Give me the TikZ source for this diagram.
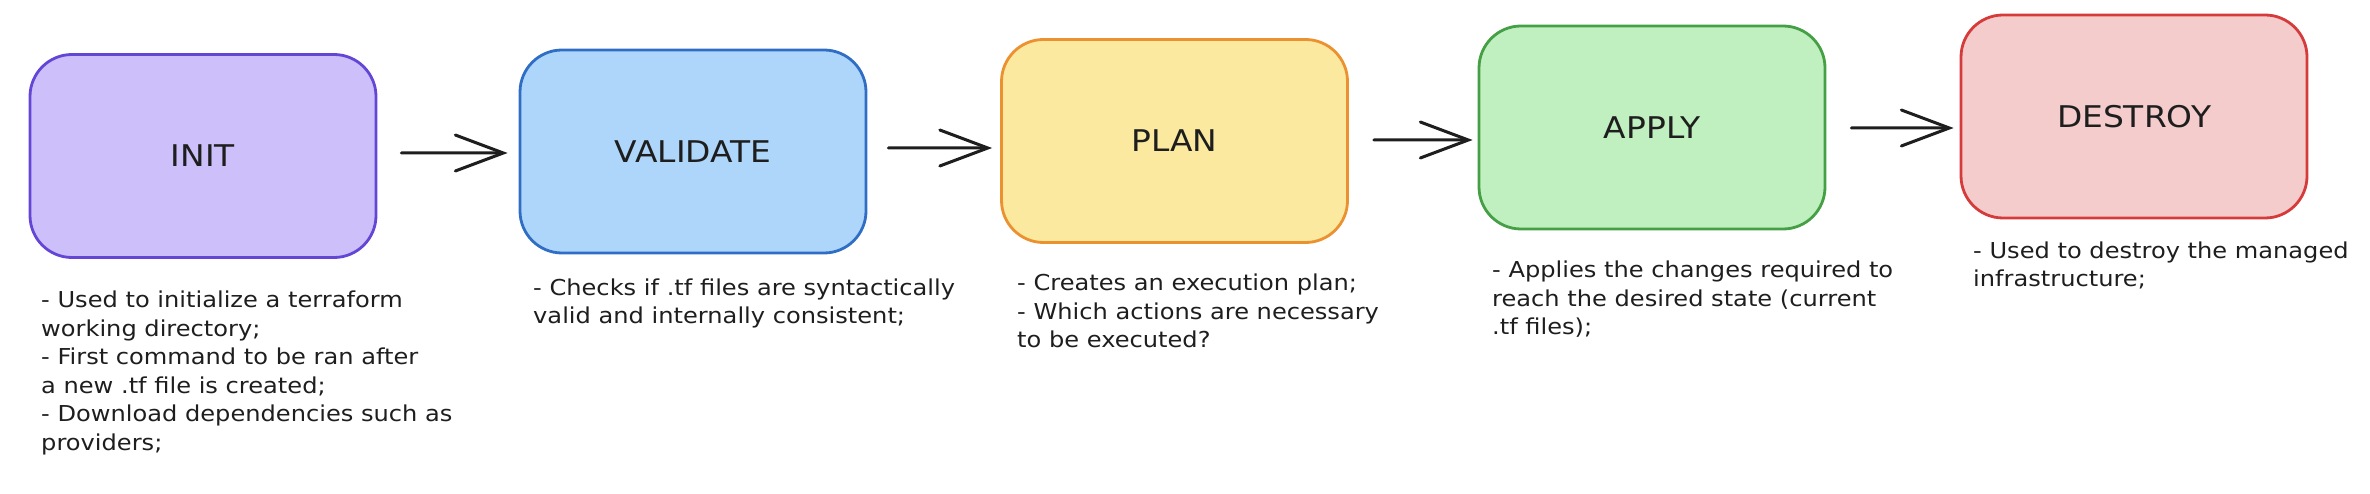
\documentclass[tikz,border=0pt]{standalone}
\usepackage{fontspec}
\setmainfont[FakeStretch=1.1]{DejaVu Sans}
\usetikzlibrary{arrows.meta}
\definecolor{ink}{HTML}{1E1E1E}
\definecolor{initfill}{HTML}{CDC0FA}
\definecolor{initdraw}{HTML}{6446D7}
\definecolor{valfill}{HTML}{AED5FA}
\definecolor{valdraw}{HTML}{2F6EC4}
\definecolor{planfill}{HTML}{FBE9A0}
\definecolor{plandraw}{HTML}{EB9130}
\definecolor{applyfill}{HTML}{C0EFC0}
\definecolor{applydraw}{HTML}{45A045}
\definecolor{destfill}{HTML}{F5CCCC}
\definecolor{destdraw}{HTML}{D63B3B}
\begin{document}
\begin{tikzpicture}[x=1bp,y=-1bp,
  stage/.style={rectangle, rounded corners=42bp, line width=2.8bp,
    minimum width=346bp, minimum height=203bp, inner sep=0pt,
    font=\fontsize{30}{36}\selectfont, text=ink},
  desc/.style={anchor=base west, align=left, inner sep=0pt,
    font=\fontsize{22}{28.6}\selectfont, text=ink},
  arr/.style={line width=3bp, draw=ink, line cap=round,
    -{Straight Barb[length=48bp,width=36bp,line cap=round]}}]
\path[use as bounding box] (0,0) rectangle (2370,494);

\node[stage, fill=initfill, draw=initdraw] (init) at (203,156) {INIT};
\node[stage, fill=valfill, draw=valdraw] (validate) at (693,151.5) {VALIDATE};
\node[stage, fill=planfill, draw=plandraw] (plan) at (1174.5,141) {PLAN};
\node[stage, fill=applyfill, draw=applydraw] (apply) at (1652,127.5) {APPLY};
\node[stage, fill=destfill, draw=destdraw] (destroy) at (2134,116.5) {DESTROY};

% base anchor = baseline of the last line
\node[desc] (initd) at (41,450) {- Used to initialize a terraform\\working directory;\\- First command to be ran after\\a new .tf file is created;\\- Download dependencies such as\\providers;};
\node[desc] (vald) at (533,323.5) {- Checks if .tf files are syntactically\\valid and internally consistent;};
\node[desc] (pland) at (1017,347.5) {- Creates an execution plan;\\- Which actions are necessary\\to be executed?};
\node[desc] (applyd) at (1492,334.5) {- Applies the changes required to\\reach the desired state (current\\.tf files);};
\node[desc] (destd) at (1973,287) {- Used to destroy the managed\\infrastructure;};

\draw[arr] ([xshift=24bp,yshift=3bp]init.east) -- ([xshift=-11bp,yshift=-1.5bp]validate.west);
\draw[arr] ([xshift=21bp,yshift=3.5bp]validate.east) -- ([xshift=-8bp,yshift=-7bp]plan.west);
\draw[arr] ([xshift=25bp,yshift=1bp]plan.east) -- ([xshift=-5bp,yshift=-12.5bp]apply.west);
\draw[arr] ([xshift=25bp,yshift=-0.5bp]apply.east) -- ([xshift=-6bp,yshift=-11.5bp]destroy.west);
\end{tikzpicture}
\end{document}
